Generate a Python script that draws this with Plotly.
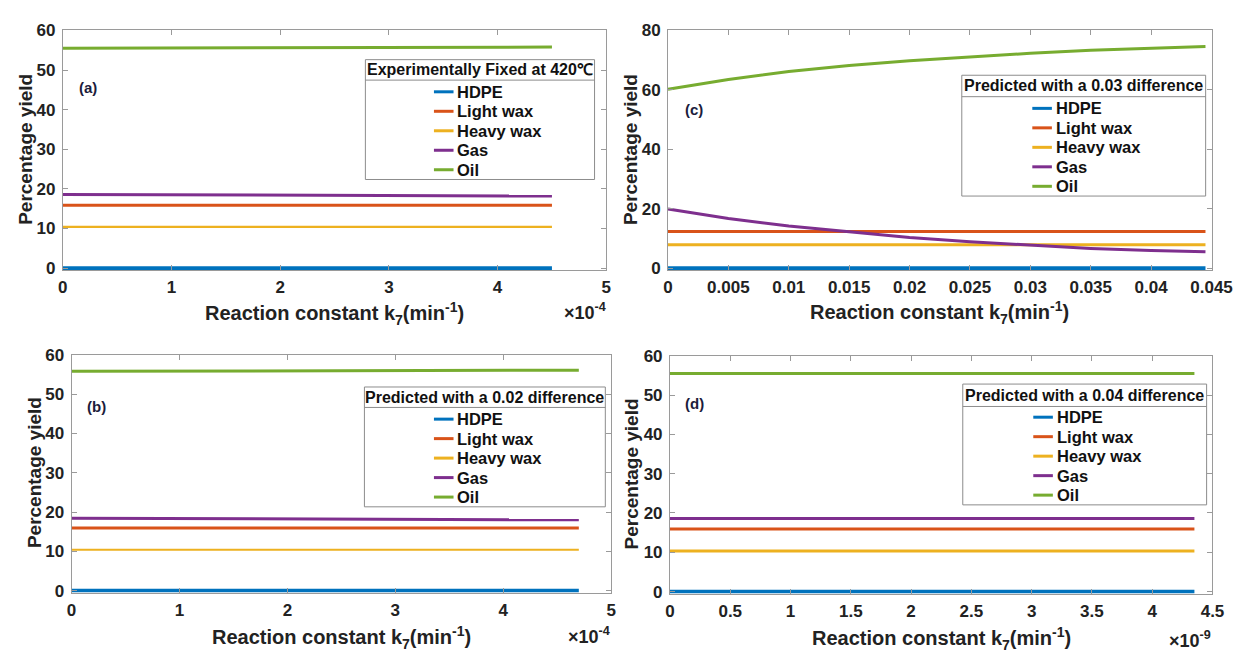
import plotly.graph_objects as go

W, H = 1257, 659
FONT = "Liberation Sans, Arial, Helvetica, sans-serif"

series_names = ["HDPE", "Light wax", "Heavy wax", "Gas", "Oil"]
series_colors = ["#0072BD", "#D95319", "#EDB120", "#7E2F8E", "#77AC30"]

# ---- Panel (a): Experimentally fixed at 420 C ----
k_a = [0, 2.25e-4, 4.5e-4]
hdpe_a = [0.0, 0.0, 0.0]
lwax_a = [15.9, 15.9, 15.9]
hwax_a = [10.4, 10.4, 10.4]
gas_a = [18.6, 18.4, 18.2]
oil_a = [55.5, 55.65, 55.8]

# ---- Panel (b): Predicted with a 0.02 difference ----
k_b = [0, 2.35e-4, 4.7e-4]
hdpe_b = [0.0, 0.0, 0.0]
lwax_b = [15.9, 15.9, 15.9]
hwax_b = [10.4, 10.4, 10.4]
gas_b = [18.4, 18.2, 18.0]
oil_b = [55.8, 55.95, 56.1]

# ---- Panel (c): Predicted with a 0.03 difference ----
k_c = [0, 0.005, 0.01, 0.015, 0.02, 0.025, 0.03, 0.035, 0.04, 0.0445]
hdpe_c = [0.0] * 10
lwax_c = [12.3] * 10
hwax_c = [7.9] * 10
gas_c = [19.9, 16.7, 14.2, 12.2, 10.3, 8.9, 7.7, 6.6, 5.9, 5.5]
oil_c = [60.2, 63.5, 66.2, 68.2, 69.8, 71.1, 72.3, 73.3, 74.1, 74.6]

# ---- Panel (d): Predicted with a 0.04 difference ----
k_d = [0, 2.175e-9, 4.35e-9]
hdpe_d = [0.0, 0.0, 0.0]
lwax_d = [15.9, 15.9, 15.9]
hwax_d = [10.3, 10.3, 10.3]
gas_d = [18.6, 18.6, 18.6]
oil_d = [55.5, 55.5, 55.5]

# tick labels
xt_ab_vals = [0, 1e-4, 2e-4, 3e-4, 4e-4, 5e-4]
xt_ab_text = ["0", "1", "2", "3", "4", "5"]
xt_c_vals = [0, 0.005, 0.01, 0.015, 0.02, 0.025, 0.03, 0.035, 0.04, 0.045]
xt_c_text = ["0", "0.005", "0.01", "0.015", "0.02", "0.025", "0.03", "0.035", "0.04", "0.045"]
xt_d_vals = [0, 0.5e-9, 1e-9, 1.5e-9, 2e-9, 2.5e-9, 3e-9, 3.5e-9, 4e-9, 4.5e-9]
xt_d_text = ["0", "0.5", "1", "1.5", "2", "2.5", "3", "3.5", "4", "4.5"]
yt_60 = [0, 10, 20, 30, 40, 50, 60]
yt_80 = [0, 20, 40, 60, 80]

legend_titles = ["Experimentally Fixed at 420\u2103", "Predicted with a 0.03 difference",
                 "Predicted with a 0.02 difference", "Predicted with a 0.04 difference"]
panel_tags = ["(a)", "(c)", "(b)", "(d)"]
exp_labels = ["\u00d710<sup>-4</sup>", None, "\u00d710<sup>-4</sup>", "\u00d710<sup>-9</sup>"]


def px(x):
    return x / W


def py(y):
    return 1 - y / H


panels = [
    dict(k=k_a, ys=[hdpe_a, lwax_a, hwax_a, gas_a, oil_a], box=(59, 614, 22, 266), xmax=5e-4, ymax=60,
         xtv=xt_ab_vals, xtt=xt_ab_text, ytv=yt_60, hw=2.2,
         leg=dict(x0=368, x1=602, top=52, sep=73, bot=175, s0=438, s1=458, ys=[85, 105, 125, 145, 165]),
         tag=(85, 81), exp=(592, 310), xtitle=313, ytitle=21),
    dict(k=k_c, ys=[hdpe_c, lwax_c, hwax_c, gas_c, oil_c], box=(677, 1232, 22, 266), xmax=0.045, ymax=80,
         xtv=xt_c_vals, xtt=xt_c_text, ytv=yt_80, hw=3,
         leg=dict(x0=977, x1=1226, top=68, sep=90, bot=192, s0=1049, s1=1069, ys=[102, 122, 142, 162, 182]),
         tag=(704, 103), exp=None, xtitle=312, ytitle=638),
    dict(k=k_b, ys=[hdpe_b, lwax_b, hwax_b, gas_b, oil_b], box=(68, 619, 355, 597), xmax=5e-4, ymax=60,
         xtv=xt_ab_vals, xtt=xt_ab_text, ytv=yt_60, hw=2.2,
         leg=dict(x0=367, x1=613, top=388, sep=409, bot=511, s0=438, s1=458, ys=[421, 441, 461, 481, 501]),
         tag=(93, 408), exp=(596, 643), xtitle=645, ytitle=30),
    dict(k=k_d, ys=[hdpe_d, lwax_d, hwax_d, gas_d, oil_d], box=(679, 1233, 356, 598), xmax=4.5e-9, ymax=60,
         xtv=xt_d_vals, xtt=xt_d_text, ytv=yt_60, hw=3,
         leg=dict(x0=978, x1=1227, top=385, sep=408, bot=509, s0=1050, s1=1070, ys=[419, 439, 459, 479, 499]),
         tag=(704, 405), exp=(1210, 647), xtitle=646, ytitle=640),
]

fig = go.Figure()
shapes = []
annotations = []
GRID = "#9a9a9a"
PAD = 2.0  # pixel pad below zero so the zero line is fully visible

for i, p in enumerate(panels):
    n = "" if i == 0 else str(i + 1)
    xa, ya = "x" + n, "y" + n
    L, R, T, B = p["box"]
    for j, (name, col) in enumerate(zip(series_names, series_colors)):
        width = 3
        if name == "HDPE":
            width = 3.8
        if name == "Heavy wax":
            width = p["hw"]
        fig.add_trace(go.Scatter(x=p["k"], y=p["ys"][j], mode="lines", name=name,
                                 line=dict(color=col, width=width), showlegend=False,
                                 xaxis=xa, yaxis=ya))
    ypad = -PAD * p["ymax"] / (B - T)
    axis_common = dict(showline=True, linecolor=GRID, linewidth=1, mirror="ticks", ticks="inside",
                       ticklen=5, tickcolor=GRID, tickwidth=1, showgrid=False, zeroline=False,
                       tickfont=dict(family=FONT, size=17, color="#222222", weight="bold"))
    fig.update_layout(**{
        "xaxis" + n: dict(domain=[px(L), px(R)], range=[0, p["xmax"]], anchor=ya,
                          tickvals=p["xtv"], ticktext=p["xtt"], ticklabelstandoff=2, **axis_common),
        "yaxis" + n: dict(domain=[py(B + PAD), py(T)], range=[ypad, p["ymax"]], anchor=xa,
                          tickvals=p["ytv"], ticklabelstandoff=3, **axis_common),
    })
    annotations.append(dict(x=px((L + R) / 2), y=py(p["xtitle"]), xref="paper", yref="paper",
                            text="Reaction constant k<sub>7</sub>(min<sup>-1</sup>)", showarrow=False,
                            font=dict(family=FONT, size=20, color="#222222", weight="bold"),
                            xanchor="center", yanchor="middle"))
    annotations.append(dict(x=px(p["ytitle"]), y=py((T + B) / 2), xref="paper", yref="paper",
                            text="Percentage yield", showarrow=False, textangle=-90,
                            font=dict(family=FONT, size=19, color="#222222", weight="bold"),
                            xanchor="center", yanchor="middle"))
    if p["exp"]:
        annotations.append(dict(x=px(p["exp"][0]), y=py(p["exp"][1]), xref="paper", yref="paper",
                                text=exp_labels[i], showarrow=False,
                                font=dict(family=FONT, size=18, color="#222222", weight="bold"),
                                xanchor="center", yanchor="middle"))
    annotations.append(dict(x=px(p["tag"][0]), y=py(p["tag"][1]), xref="paper", yref="paper",
                            text=panel_tags[i], showarrow=False,
                            font=dict(family=FONT, size=15, color="#1c1c3c", weight="bold"),
                            xanchor="center", yanchor="middle"))
    lg = p["leg"]
    shapes.append(dict(type="rect", xref="paper", yref="paper", x0=px(lg["x0"]), x1=px(lg["x1"]),
                       y0=py(lg["bot"]), y1=py(lg["top"]), fillcolor="white",
                       line=dict(color="#8c8c8c", width=1), layer="above"))
    shapes.append(dict(type="line", xref="paper", yref="paper", x0=px(lg["x0"]), x1=px(lg["x1"]),
                       y0=py(lg["sep"]), y1=py(lg["sep"]), line=dict(color="#8c8c8c", width=1),
                       layer="above"))
    annotations.append(dict(x=px((lg["x0"] + lg["x1"]) / 2), y=py((lg["top"] + lg["sep"]) / 2),
                            xref="paper", yref="paper", text=legend_titles[i], showarrow=False,
                            font=dict(family=FONT, size=16, color="#111111", weight="bold"),
                            xanchor="center", yanchor="middle"))
    for j, (name, col) in enumerate(zip(series_names, series_colors)):
        yy = lg["ys"][j]
        shapes.append(dict(type="line", xref="paper", yref="paper", x0=px(lg["s0"]), x1=px(lg["s1"]),
                           y0=py(yy), y1=py(yy), line=dict(color=col, width=3), layer="above"))
        annotations.append(dict(x=px(lg["s1"] + 2), y=py(yy), xref="paper", yref="paper", text=name,
                                showarrow=False,
                                font=dict(family=FONT, size=16.5, color="#111111", weight="bold"),
                                xanchor="left", yanchor="middle"))

fig.update_layout(width=W, height=H, margin=dict(l=0, r=0, t=0, b=0),
                  paper_bgcolor="white", plot_bgcolor="white",
                  shapes=shapes, annotations=annotations, showlegend=False)

fig.write_html("out.html", config={"displayModeBar": False},
               post_script="document.documentElement.style.margin='0';document.body.style.margin='0';"
                           "document.body.style.padding='0';document.body.style.overflow='hidden';")
